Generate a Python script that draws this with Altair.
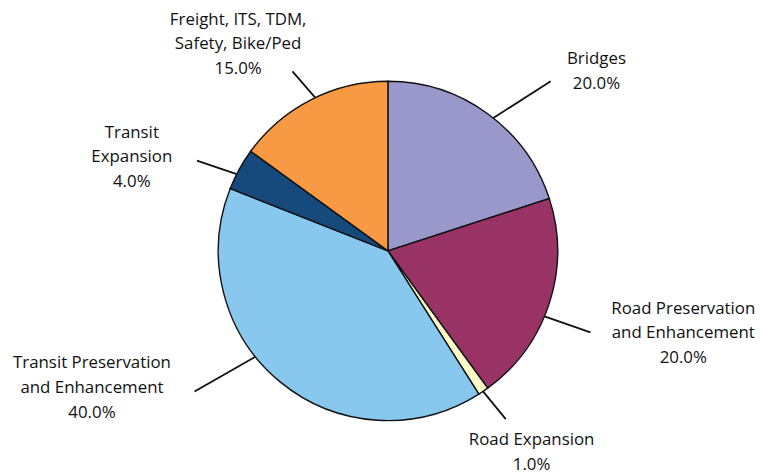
import math
import altair as alt
import pandas as pd

# ---- data ----
categories = [
    "Bridges",
    "Road Preservation and Enhancement",
    "Road Expansion",
    "Transit Preservation and Enhancement",
    "Transit Expansion",
    "Freight, ITS, TDM, Safety, Bike/Ped",
]
label_lines = [
    ["Bridges"],
    ["Road Preservation", "and Enhancement"],
    ["Road Expansion"],
    ["Transit Preservation", "and Enhancement"],
    ["Transit", "Expansion"],
    ["Freight, ITS, TDM,", "Safety, Bike/Ped"],
]
values = [20.0, 20.0, 1.0, 40.0, 4.0, 15.0]
colors = ["#9898CB", "#993265", "#FFFFCC", "#88C7EE", "#174A7C", "#F79A43"]

# ---- layout (pixels / degrees) ----
R = 171
LH = 25
leader_start_shift = [2.4, 4.7, 0.1, 11.8, -1.9, 1.6]
leader_end_shift = [7.8, 3.9, -0.8, 14.4, -3.5, -1.0]
leader_end_r = [237, 220, 207, 241, 213, 205]
label_shift = [13.5, -2.5, -1.6, 25.4, -8.6, -8.6]
label_r = [279, 311, 251, 327, 273, 256]

W, H = 748, 460
CX, CY = 383, 243
xdom = [-CX, W - CX]
ydom = [-(H - CY), CY]

total = sum(values)
rows = []
cum = 0.0
for i, (c, v) in enumerate(zip(categories, values)):
    mid = (cum + v / 2) / total * 360.0
    cum += v

    def pol(ang, r):
        a = math.radians(ang)
        return r * math.sin(a), r * math.cos(a)

    sx, sy = pol(mid + leader_start_shift[i], R)
    ex, ey = pol(mid + leader_end_shift[i], leader_end_r[i])
    lx, ly = pol(mid + label_shift[i], label_r[i])
    lines = label_lines[i] + [f"{v:.1f}%"]
    # anchor is the first line: shift so the block is centred on (lx, ly)
    ly += (len(lines) - 1) * LH / 2
    rows.append(dict(
        category=c, value=v, order=i,
        sx=sx, sy=sy, ex=ex, ey=ey, lx=lx - 2, ly=ly,
        label=lines,
    ))
df = pd.DataFrame(rows)

xs = alt.Scale(domain=xdom, zero=False, nice=False)
ys = alt.Scale(domain=ydom, zero=False, nice=False)

pie = alt.Chart(df).mark_arc(radius=R, stroke="#111111", strokeWidth=1.4).encode(
    theta=alt.Theta("value:Q", stack=True),
    order=alt.Order("order:Q"),
    color=alt.Color("category:N", scale=alt.Scale(domain=categories, range=colors), legend=None),
    x=alt.XDatum(0, type="quantitative", scale=xs, axis=None),
    y=alt.YDatum(0, type="quantitative", scale=ys, axis=None),
)

leaders = alt.Chart(df).mark_rule(color="#111111", strokeWidth=1.8).encode(
    x=alt.X("sx:Q", scale=xs, axis=None),
    y=alt.Y("sy:Q", scale=ys, axis=None),
    x2="ex:Q",
    y2="ey:Q",
)

labels = alt.Chart(df).mark_text(
    font="Open Sans", fontSize=17, fontWeight=500, lineHeight=LH, align="center",
    baseline="middle", color="#111111",
).encode(
    x=alt.X("lx:Q", scale=xs, axis=None),
    y=alt.Y("ly:Q", scale=ys, axis=None),
    text="label",
)

chart = alt.layer(pie, leaders, labels).properties(
    width=W, height=H, padding=0
).configure_view(strokeWidth=0)

chart.save("out.html", embed_options={"renderer": "svg", "actions": False})
